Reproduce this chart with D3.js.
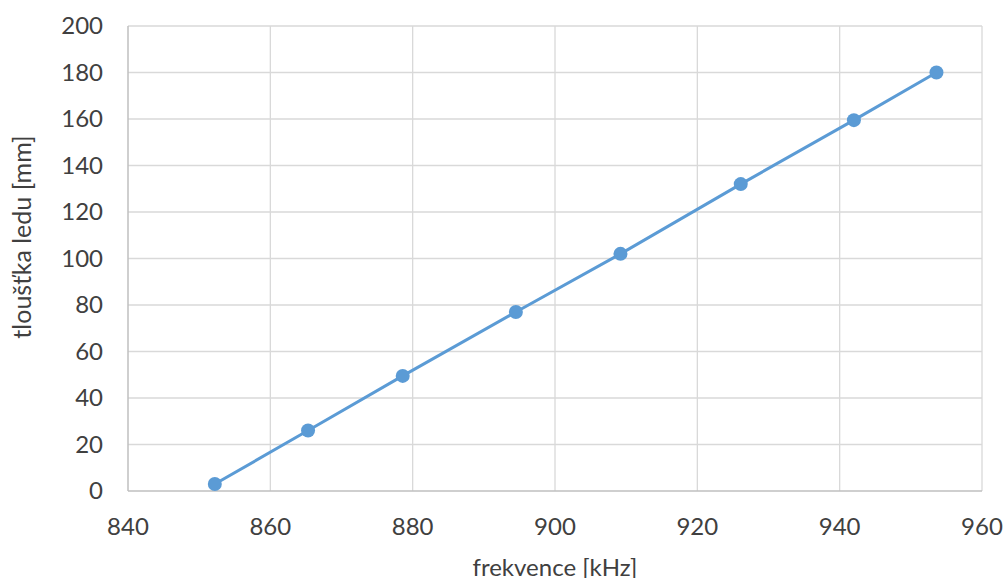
<!DOCTYPE html>
<html>
<head>
<meta charset="utf-8">
<script src="https://cdn.jsdelivr.net/npm/d3@7"></script>
<style>
  body { margin: 0; background: #fff; }
  text { font-family: Lato, "Open Sans", sans-serif; fill: #404040; }
</style>
</head>
<body>
<script>
const width = 1004;
const height = 578;

// data
const frequency = [852.2, 865.3, 878.6, 894.5, 909.2, 926.1, 942.0, 953.6];
const thickness = [3, 26, 49.5, 77, 102, 132, 159.5, 180];
const xTicks = [840, 860, 880, 900, 920, 940, 960];
const yTicks = [0, 20, 40, 60, 80, 100, 120, 140, 160, 180, 200];

const margin = { left: 128, right: 22, top: 26, bottom: 87 };

const x = d3.scaleLinear().domain([840, 960]).range([margin.left, width - margin.right]);
const y = d3.scaleLinear().domain([0, 200]).range([height - margin.bottom, margin.top]);

const svg = d3.select("body").append("svg")
  .attr("width", width)
  .attr("height", height);

// gridlines
svg.append("g")
  .selectAll("line.h")
  .data(yTicks.slice(1))
  .join("line")
  .attr("x1", x(840)).attr("x2", x(960))
  .attr("y1", d => y(d)).attr("y2", d => y(d))
  .attr("stroke", "#d9d9d9").attr("stroke-width", 1.3);

svg.append("g")
  .selectAll("line.v")
  .data(xTicks.slice(1))
  .join("line")
  .attr("x1", d => x(d)).attr("x2", d => x(d))
  .attr("y1", y(0)).attr("y2", y(200))
  .attr("stroke", "#d9d9d9").attr("stroke-width", 1.3);

// axis lines
svg.append("line")
  .attr("x1", x(840)).attr("x2", x(960))
  .attr("y1", y(0)).attr("y2", y(0))
  .attr("stroke", "#bfbfbf").attr("stroke-width", 1.5);
svg.append("line")
  .attr("x1", x(840)).attr("x2", x(840))
  .attr("y1", y(0)).attr("y2", y(200))
  .attr("stroke", "#bfbfbf").attr("stroke-width", 1.5);

// tick labels
svg.append("g")
  .selectAll("text")
  .data(yTicks)
  .join("text")
  .attr("x", 103)
  .attr("y", d => y(d))
  .attr("dy", "0.35em")
  .attr("text-anchor", "end")
  .style("font-size", "24px")
  .text(d => d);

svg.append("g")
  .selectAll("text")
  .data(xTicks)
  .join("text")
  .attr("x", d => x(d))
  .attr("y", 527)
  .attr("dy", "0.35em")
  .attr("text-anchor", "middle")
  .style("font-size", "24px")
  .text(d => d);

// axis titles
svg.append("text")
  .attr("x", (x(840) + x(960)) / 2)
  .attr("y", 568)
  .attr("dy", "0.35em")
  .attr("text-anchor", "middle")
  .style("font-size", "24px")
  .text("frekvence [kHz]");

svg.append("text")
  .attr("transform", "translate(22,237) rotate(-90)")
  .attr("dy", "0.35em")
  .attr("text-anchor", "middle")
  .style("font-size", "25px")
  .text("tloušťka ledu [mm]");

// series
const pts = frequency.map((f, i) => [f, thickness[i]]);
const line = d3.line().x(d => x(d[0])).y(d => y(d[1]));

svg.append("path")
  .datum(pts)
  .attr("d", line)
  .attr("fill", "none")
  .attr("stroke", "#5b9bd5")
  .attr("stroke-width", 3);

svg.append("g")
  .selectAll("circle")
  .data(pts)
  .join("circle")
  .attr("cx", d => x(d[0]))
  .attr("cy", d => y(d[1]))
  .attr("r", 7)
  .attr("fill", "#5b9bd5");
</script>
</body>
</html>
